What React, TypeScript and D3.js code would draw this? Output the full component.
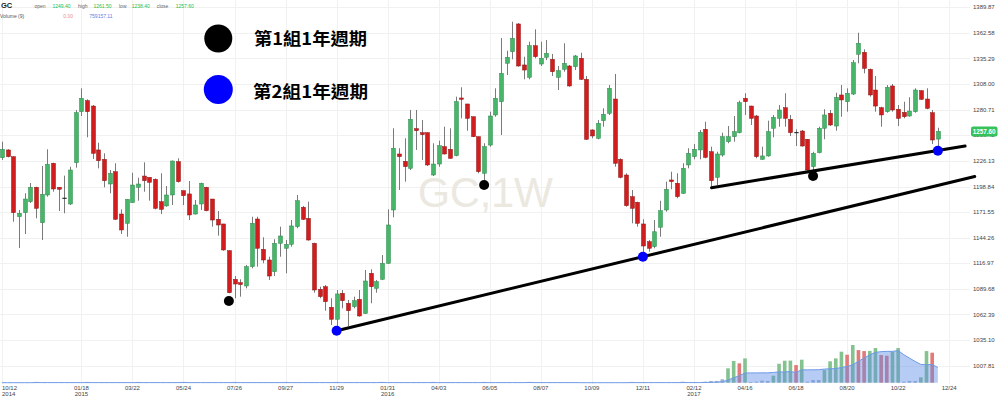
import React from "react";
import * as d3 from "d3";

// ---------- data ----------
const START_WEEK = "2014-10-12"; // first weekly candle

const OPEN = [1229.5,1237.8,1230.6,1166.6,1170.9,1182.6,1198.0,1160.2,1189.8,1223.6,1198.0,1186.3,1180.2,1224.2,1278.6,1290.3,1284.6,1237.8,1227.8,1201.5,1214.6,1169.5,1159.6,1181.6,1198.0,1210.0,1208.6,1206.5,1182.6,1178.1,1189.8,1225.3,1194.4,1190.9,1169.5,1180.2,1198.0,1185.5,1163.9,1158.9,1130.4,1099.9,1096.3,1092.8,1113.4,1164.2,1131.9,1120.5,1108.0,1138.3,1133.0,1137.2,1156.0,1176.7,1164.9,1138.3,1089.3,1092.0,1070.1,1057.3,1085.0,1074.3,1070.7,1078.6,1063.6,1106.3,1090.3,1099.9,1117.0,1173.8,1233.5,1225.7,1218.2,1260.5,1256.2,1256.2,1211.1,1222.8,1241.3,1238.5,1231.7,1293.2,1286.8,1273.2,1251.9,1212.9,1243.0,1275.1,1289.2,1330.2,1342.5,1372.1,1328.4,1315.2,1348.9,1329.4,1336.6,1334.4,1315.2,1323.8,1327.3,1326.6,1335.5,1313.1,1259.1,1250.2,1269.0,1276.9,1292.1,1227.8,1211.1,1188.0,1182.0,1158.9,1140.0,1134.7,1155.4,1173.8,1205.8,1202.3,1191.6,1221.8,1230.6,1237.8,1259.8,1235.9,1208.6,1232.4,1246.6,1251.9,1256.2,1292.9,1284.6,1274.0,1227.8,1231.4,1260.9,1271.5,1282.8,1270.5,1256.2,1258.0,1249.2,1220.0,1234.9,1260.9,1276.9,1263.3,1296.4,1289.2,1297.4,1339.8,1341.9,1323.8,1301.7,1282.8,1278.6,1306.0,1281.2,1277.9,1274.0,1278.6,1301.0,1292.1,1277.5,1249.4];
const HIGH = [1246.6,1238.5,1231.0,1173.8,1191.6,1202.6,1198.6,1220.7,1238.5,1224.2,1198.0,1210.4,1219.9,1280.4,1303.5,1291.8,1285.7,1245.5,1234.2,1216.4,1223.6,1174.5,1185.2,1213.5,1208.2,1224.6,1208.6,1207.5,1212.9,1199.4,1226.5,1228.9,1194.4,1204.7,1184.5,1202.9,1198.5,1185.5,1172.7,1159.0,1131.0,1103.4,1099.9,1115.2,1166.6,1166.6,1144.7,1124.0,1142.6,1156.0,1141.8,1163.1,1189.8,1178.1,1182.6,1139.0,1092.0,1093.8,1079.7,1088.5,1088.5,1077.9,1081.4,1088.5,1109.8,1110.6,1099.2,1125.8,1174.5,1260.9,1239.6,1250.2,1280.4,1280.4,1269.7,1256.5,1244.9,1247.7,1262.6,1260.9,1294.6,1304.6,1287.0,1273.5,1252.2,1244.9,1278.6,1303.5,1357.1,1343.6,1374.5,1373.0,1337.2,1353.2,1366.4,1353.2,1355.0,1340.1,1327.3,1351.5,1328.4,1339.0,1341.5,1316.6,1259.8,1269.7,1282.2,1307.0,1318.8,1228.9,1212.9,1195.1,1182.6,1163.9,1141.8,1163.1,1183.7,1204.0,1214.6,1212.9,1223.6,1239.6,1244.1,1259.1,1267.9,1241.3,1235.9,1256.2,1263.3,1274.0,1290.3,1298.2,1285.0,1275.1,1241.3,1269.0,1275.1,1285.7,1298.2,1275.1,1259.8,1259.1,1249.5,1235.9,1262.6,1281.2,1280.4,1298.8,1307.0,1303.5,1333.7,1362.8,1345.1,1324.5,1316.6,1283.9,1307.0,1308.1,1285.7,1289.2,1293.9,1303.5,1301.5,1303.5,1280.4,1261.5];
const LOW = [1227.1,1229.9,1161.3,1133.3,1148.2,1181.3,1164.9,1141.8,1188.0,1193.3,1172.7,1170.3,1179.1,1218.9,1274.0,1251.3,1228.2,1218.2,1198.0,1191.6,1163.1,1148.2,1145.3,1181.6,1183.7,1193.3,1183.7,1174.5,1169.5,1177.3,1179.1,1203.0,1179.1,1163.1,1169.0,1173.8,1172.5,1156.0,1146.4,1130.4,1085.0,1079.7,1081.4,1090.3,1111.6,1113.4,1117.0,1099.2,1103.4,1124.0,1106.3,1134.7,1154.3,1163.1,1141.1,1085.6,1079.7,1066.4,1051.2,1046.5,1069.0,1050.1,1069.0,1060.1,1062.9,1074.3,1085.6,1099.2,1116.3,1166.0,1195.1,1204.0,1216.4,1237.8,1227.1,1220.7,1210.0,1219.9,1233.0,1228.5,1231.0,1271.5,1258.3,1251.5,1212.9,1205.8,1241.3,1273.2,1253.7,1317.7,1334.4,1326.6,1313.1,1313.1,1335.5,1327.3,1333.7,1316.6,1301.7,1321.2,1305.2,1323.0,1312.4,1248.4,1250.2,1249.2,1262.6,1275.1,1219.9,1207.6,1177.3,1159.6,1156.0,1124.5,1129.3,1133.0,1145.3,1172.0,1195.9,1186.3,1190.9,1218.2,1227.8,1227.8,1228.9,1198.6,1200.4,1230.6,1244.9,1246.6,1255.5,1275.1,1264.4,1228.9,1227.5,1230.6,1251.3,1262.6,1262.6,1252.7,1242.0,1241.3,1215.7,1214.6,1234.2,1249.2,1263.3,1258.3,1273.2,1278.6,1296.4,1330.2,1319.5,1294.6,1278.6,1262.6,1277.5,1278.6,1263.3,1271.5,1273.2,1277.5,1291.1,1281.2,1244.1,1238.4];
const CLOSE = [1238.5,1230.6,1170.9,1170.3,1185.5,1198.0,1175.6,1190.5,1222.5,1196.2,1195.9,1186.3,1216.4,1277.5,1292.9,1278.6,1234.2,1226.3,1205.0,1212.9,1163.9,1152.5,1185.2,1200.4,1201.5,1205.0,1203.3,1175.6,1174.5,1189.8,1226.0,1204.0,1189.0,1168.5,1179.1,1202.3,1173.0,1163.1,1157.8,1131.2,1085.6,1094.9,1094.2,1113.4,1159.6,1133.0,1120.5,1103.4,1138.3,1146.1,1137.2,1156.8,1183.7,1163.9,1141.8,1088.5,1081.4,1076.0,1057.3,1084.3,1077.1,1066.4,1077.1,1060.8,1098.1,1092.0,1097.4,1117.0,1157.8,1239.6,1230.6,1220.0,1270.5,1258.3,1254.1,1221.8,1222.8,1242.3,1233.5,1228.9,1289.2,1291.8,1271.5,1251.9,1214.6,1241.3,1274.0,1292.9,1319.5,1336.6,1356.8,1327.3,1323.0,1348.9,1337.2,1335.5,1340.8,1321.2,1322.3,1330.2,1306.0,1338.0,1313.1,1249.2,1252.7,1266.2,1275.8,1303.5,1223.6,1208.6,1178.4,1175.6,1159.6,1135.4,1133.0,1150.6,1173.0,1195.9,1204.0,1188.0,1218.2,1234.2,1238.5,1256.6,1229.9,1205.0,1233.5,1251.9,1251.9,1257.3,1288.2,1289.2,1271.5,1230.6,1231.4,1257.3,1272.6,1280.4,1271.5,1256.2,1256.2,1242.0,1216.4,1234.2,1260.9,1275.1,1264.4,1293.9,1291.1,1298.2,1330.8,1351.5,1324.8,1296.4,1284.6,1275.1,1304.6,1280.4,1271.5,1273.2,1279.3,1301.7,1291.8,1282.2,1248.4,1257.6];
const VOLUME = [0,0,0,0,0,0,40000,0,0,0,0,0,0,0,0,40000,0,0,0,0,0,0,0,0,40000,0,0,0,0,0,0,0,40000,0,0,0,0,0,0,0,0,40000,0,0,0,0,0,0,0,0,40000,0,0,0,0,0,0,0,0,40000,0,0,0,0,0,0,0,40000,0,0,0,0,0,0,0,0,40000,0,0,0,0,0,0,0,0,40000,0,0,0,0,0,0,0,40000,0,0,0,0,0,0,0,0,0,0,0,0,0,0,0,0,0,40000,0,0,0,0,0,0,0,0,50000,0,0,0,50000,85000,85000,170000,710000,1070000,955000,1200000,30000,50000,100000,85000,345000,935000,1085000,1090000,870000,1135000,50000,130000,130000,625000,1055000,1200000,1530000,1380000,1860000,1610000,1560000,1570000,1710000,1365000,1330000,1530000,1710000,50000,85000,85000,265000,1560000,1480000,0];

const PRICE_TICKS = [1007.81,1035.10,1062.39,1089.68,1116.97,1144.26,1171.55,1198.84,1226.13,1253.42,1280.71,1308.00,1335.29,1362.58,1389.87];
const DATE_TICKS = ["2014-10-12","2015-01-18","2015-03-22","2015-05-24","2015-07-26","2015-09-27","2015-11-29","2016-01-31","2016-04-03","2016-06-05","2016-08-07","2016-10-09","2016-12-11","2017-02-12","2017-04-16","2017-06-18","2017-08-20","2017-10-22","2017-12-24"];
const DATE_TICK_LABELS = ["10/12","01/18","03/22","05/24","07/26","09/27","11/29","01/31","04/03","06/05","08/07","10/09","12/11","02/12","04/16","06/18","08/20","10/22","12/24"];
const DATE_TICK_YEARS = ["2014","2015","","","","","","2016","","","","","","2017","","","","",""];

// annotation points: [week index, price]
const GROUP1_LOWS = [[40, 1076.8], [85, 1200.4], [143, 1210.0]];
const GROUP2_LOWS = [[59, 1045.1], [113, 1124.0], [165, 1237.0]];
const TREND_LOWER = [[59, 1045.1], [171.5, 1209.5]];
const TREND_UPPER = [[125.1, 1197.6], [169.8, 1242.0]];

const LEGEND = ["第1組1年週期", "第2組1年週期"];
const VOLUME_MA_LABEL = "759157.11";
const LAST_VOLUME_LABEL = "0.00";

// ---------- chart ----------
const FONT = "'Liberation Sans', Arial, Helvetica, sans-serif";
const CJK = "'Noto Sans CJK TC', 'Noto Sans CJK SC', sans-serif";
const parse = d3.utcParse("%Y-%m-%d");
const start = parse(START_WEEK) as Date;
const weekDate = (w: number) => new Date(start.getTime() + w * 7 * 864e5);

export default function App() {
  const x = d3.scaleUtc().domain([parse("2014-10-12") as Date, parse("2017-12-24") as Date]).range([2, 949.2]);
  const y = d3.scaleLinear().domain([1007.81, 1389.87]).range([365.7, 7.3]);
  const yv = d3.scaleLinear().domain([0, 1860000]).range([382.7, 345]);

  const n = CLOSE.length;
  const ma = VOLUME.map((_, i) => d3.mean(VOLUME.slice(Math.max(0, i - 8), i + 1)) as number);
  const maArea = d3.area<number>().x((_, i) => x(weekDate(i))).y0(yv(0)).y1((d) => yv(d))(ma) as string;
  const maLine = d3.line<number>().x((_, i) => x(weekDate(i))).y((d) => yv(d))(ma) as string;

  const line = (pts: number[][]) => d3.line<number[]>().x((p) => x(weekDate(p[0]))).y((p) => y(p[1]))(pts) as string;

  const last = n - 1;
  const hdr = [
    { t: "open", x: 34.5, c: "#666" },
    { t: OPEN[last].toFixed(2), x: 52.5, c: "#22c04a" },
    { t: "high", x: 78, c: "#666" },
    { t: HIGH[last].toFixed(2), x: 93.5, c: "#22c04a" },
    { t: "low", x: 119, c: "#666" },
    { t: LOW[last].toFixed(2), x: 131.7, c: "#22c04a" },
    { t: "close", x: 156.7, c: "#666" },
    { t: CLOSE[last].toFixed(2), x: 175.7, c: "#22c04a" },
  ];

  return (
    <svg width={1000} height={398} style={{ position: "absolute", left: 0, top: 0, display: "block", background: "#fff" }} fontFamily={FONT}>
      {/* grid */}
      {PRICE_TICKS.map((t) => (
        <line key={"h" + t} x1={0} x2={970} y1={Math.round(y(t)) + 0.5} y2={Math.round(y(t)) + 0.5} stroke="#f1f1f1" />
      ))}
      {DATE_TICKS.map((d) => {
        const xx = Math.round(x(parse(d) as Date)) + 0.5;
        return <line key={"v" + d} x1={xx} x2={xx} y1={0} y2={384} stroke="#f1f1f1" />;
      })}

      {/* watermark */}
      <text x={418} y={207} fontSize={42} fill="#ebe8df" textLength={135} lengthAdjust="spacingAndGlyphs">GC,1W</text>

      {/* volume bars */}
      {VOLUME.map((v, i) => {
        if (v <= 0) return null;
        const up = i === 0 || v >= VOLUME[i - 1];
        const cx = x(weekDate(i));
        return (
          <rect key={"vb" + i} x={cx - 1.8} width={3.6} y={yv(v)} height={Math.max(0.8, yv(0) - yv(v))}
            fill={v < 200000 ? "#9fb3cf" : up ? "#84c28f" : "#e27a7a"} />
        );
      })}
      <path d={maArea} fill="#5f8fe6" fillOpacity={0.45} />
      <path d={maLine} fill="none" stroke="#6d9ae8" strokeWidth={1} />

      {/* candles */}
      {CLOSE.map((c, i) => {
        const o = OPEN[i];
        const cx = Math.round(x(weekDate(i))) + 0.5;
        const upC = c > o;
        const doji = Math.abs(c - o) < 0.05;
        const top = y(Math.max(o, c));
        const bot = y(Math.min(o, c));
        return (
          <g key={"c" + i}>
            <line x1={cx} x2={cx} y1={y(HIGH[i])} y2={y(LOW[i])} stroke="#7a7a7a" strokeWidth={1} />
            {doji ? (
              <line x1={cx - 2.2} x2={cx + 2.2} y1={top} y2={top} stroke="#111" strokeWidth={1} />
            ) : (
              <rect x={cx - 2} width={4} y={top} height={Math.max(1, bot - top)}
                fill={upC ? "#47b56a" : "#d11d1d"} stroke={upC ? "#2f8a4c" : "#8e1616"} strokeWidth={0.5} />
            )}
          </g>
        );
      })}

      {/* trend lines */}
      <path d={line(TREND_LOWER)} stroke="#000" strokeWidth={3} fill="none" strokeLinecap="round" />
      <path d={line(TREND_UPPER)} stroke="#000" strokeWidth={3} fill="none" strokeLinecap="round" />

      {/* cycle lows */}
      {GROUP1_LOWS.map((p, i) => (
        <circle key={"g1" + i} cx={x(weekDate(p[0]))} cy={y(p[1])} r={5} fill="#000" />
      ))}
      {GROUP2_LOWS.map((p, i) => (
        <circle key={"g2" + i} cx={x(weekDate(p[0]))} cy={y(p[1])} r={5} fill="#0000ff" />
      ))}

      {/* legend */}
      <circle cx={218.3} cy={38.5} r={14} fill="#000" />
      <text x={254} y={44.5} fontSize={17} fontWeight={700} fontFamily={CJK} fill="#000" textLength={113} lengthAdjust="spacingAndGlyphs">{LEGEND[0]}</text>
      <circle cx={218.3} cy={89.5} r={14.5} fill="#0000ff" />
      <text x={253} y={97.5} fontSize={17} fontWeight={700} fontFamily={CJK} fill="#000" textLength={115} lengthAdjust="spacingAndGlyphs">{LEGEND[1]}</text>

      {/* right axis */}
      {PRICE_TICKS.map((t) => (
        <text key={"pt" + t} x={973} y={y(t) + 2.1} fontSize={6} fill="#444">{t.toFixed(2)}</text>
      ))}
      <rect x={971} y={y(CLOSE[last]) - 5} width={26.5} height={10} rx={2} fill="#36c25a" />
      <text x={984.2} y={y(CLOSE[last]) + 2.2} fontSize={6.3} fontWeight={700} fill="#fff" textAnchor="middle">{CLOSE[last].toFixed(2)}</text>

      {/* x axis */}
      {DATE_TICKS.map((d, i) => {
        const xx = x(parse(d) as Date);
        const first = i === 0;
        return (
          <g key={"xt" + d}>
            <text x={first ? 2 : xx} y={390} fontSize={6} fill="#444" textAnchor={first ? "start" : "middle"}>{DATE_TICK_LABELS[i]}</text>
            {DATE_TICK_YEARS[i] && (
              <text x={first ? 2 : xx} y={396} fontSize={6} fill="#444" textAnchor={first ? "start" : "middle"}>{DATE_TICK_YEARS[i]}</text>
            )}
          </g>
        );
      })}

      {/* header */}
      <text x={1} y={8} fontSize={7.5} fontWeight={700} fill="#222">GC</text>
      {hdr.map((h, i) => (
        <text key={"hd" + i} x={h.x} y={7.5} fontSize={5} fill={h.c}>{h.t}</text>
      ))}
      <text x={0} y={18} fontSize={5} fill="#555">Volume (9)</text>
      <text x={63.3} y={18} fontSize={5} fill="#f08c8c">{LAST_VOLUME_LABEL}</text>
      <text x={89.3} y={18} fontSize={5} fill="#4f86e6">{VOLUME_MA_LABEL}</text>
    </svg>
  );
}
